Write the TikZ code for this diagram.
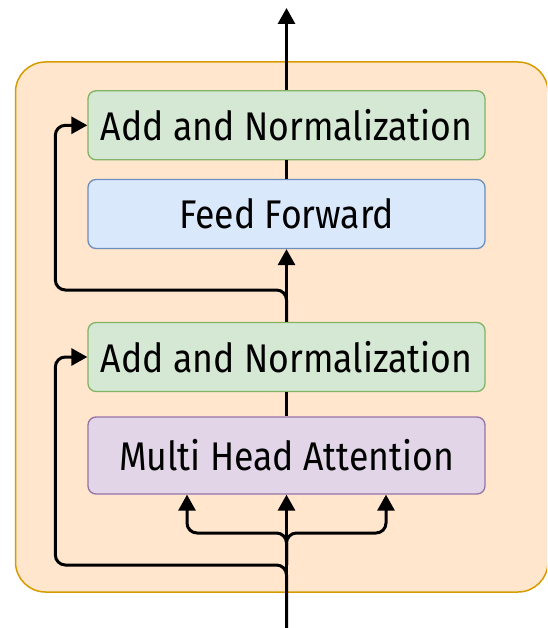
\documentclass[tikz,border=0pt]{standalone}
\usepackage{fontspec}
\setmainfont{Fira Sans}
\newfontfamily\labelfont[FakeStretch=0.89]{Fira Sans}
\usetikzlibrary{arrows.meta,calc}
\definecolor{blockfill}{HTML}{FFE6CC}
\definecolor{blockline}{HTML}{D79B00}
\definecolor{normfill}{HTML}{D5E8D4}
\definecolor{normline}{HTML}{82B366}
\definecolor{fffill}{HTML}{DAE8FC}
\definecolor{ffline}{HTML}{6C8EBF}
\definecolor{attfill}{HTML}{E1D5E7}
\definecolor{attline}{HTML}{9673A6}
\tikzset{
  layerbox/.style={rounded corners=8pt, line width=1.3pt, minimum width=397pt,
    minimum height=69pt, inner sep=0pt, font=\labelfont\fontsize{40}{44}\selectfont},
  normbox/.style={layerbox, fill=normfill, draw=normline},
  ffbox/.style={layerbox, fill=fffill, draw=ffline},
  attbox/.style={layerbox, fill=attfill, draw=attline, minimum height=77pt},
  wire/.style={line width=3pt, black},
  arr/.style={wire, -{Triangle[length=16pt,width=17pt]}},
}
\begin{document}
\begin{tikzpicture}[x=1pt,y=-1pt]
\useasboundingbox (0,0) rectangle (547,628);
\clip (0,0) rectangle (547,628);
% encoder block background
\draw[fill=blockfill, draw=blockline, line width=1.5pt, rounded corners=30pt]
  (15.5,62) rectangle (548,592);
% layers
\node[normbox] (an1) at (286.5,125.3) {Add and Normalization};
\node[ffbox]   (ff)  at (286.5,214)   {Feed Forward};
\node[normbox] (an2) at (286.5,357)   {Add and Normalization};
\node[attbox]  (mha) at (286.5,455.5) {Multi Head Attention};
% free ends and junctions
\coordinate (out) at (286.5,8);
\coordinate (in)  at (286.5,628);
\coordinate (j1)  at (286.5,565);
\coordinate (j2)  at (286.5,290);
\coordinate (fork) at (286.5,533);
% main flow
\draw[arr] (an1.north) -- (out);
\draw[wire] (ff.north) -- (an1.south);
\draw[arr] (an2.north) -- (ff.south);
\draw[wire] (mha.north) -- (an2.south);
\draw[arr] (in) -- (mha.south);
% query / key / value branches
\draw[arr, rounded corners=10pt] (j1) -- (fork) -| ($(mha.south)+(-99.5,0)$);
\draw[arr, rounded corners=10pt] (j1) -- (fork) -| ($(mha.south)+(99.5,0)$);
% residual connections
\draw[arr, rounded corners=10pt] (in) -- (j1) -| ($(an2.west)+(-32,0)$) -- (an2.west);
\draw[arr, rounded corners=10pt] (an2.north) -- (j2) -| ($(an1.west)+(-32,0)$) -- (an1.west);
\end{tikzpicture}
\end{document}
